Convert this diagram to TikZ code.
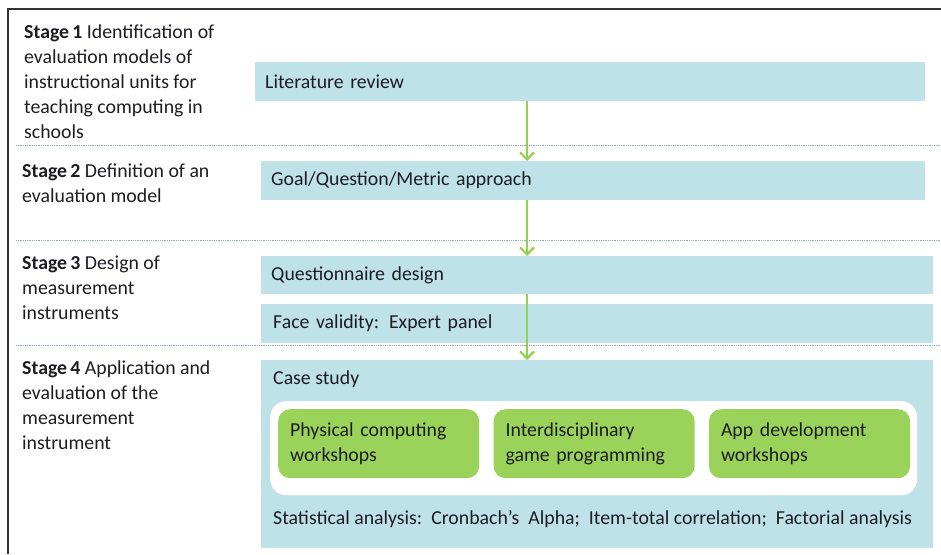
\documentclass[tikz,border=0pt]{standalone}
\usepackage{fontspec}
\setmainfont{Carlito}
\usetikzlibrary{
  arrows.meta,
  positioning
}
\definecolor{barblue}{RGB}{191,225,232}
\definecolor{tilegreen}{RGB}{155,211,90}
\definecolor{flowgreen}{RGB}{146,208,80}
\definecolor{sepblue}{RGB}{140,165,205}
\definecolor{ink}{RGB}{28,28,36}
\newcommand{\bodyfont}{\fontsize{19.8}{25}\selectfont}
\newcommand{\gap}{\hspace{9pt}}

\tikzset{
  stagetxt/.style={anchor=base west, align=left, inner sep=0pt, text=ink, font=\bodyfont},
  bar/.style={fill=barblue, anchor=north west, minimum height=39pt, inner xsep=10pt,
    text width=#1, align=left, text=ink, font=\bodyfont},
  tile/.style={fill=tilegreen, rounded corners=12pt, minimum height=69pt, inner xsep=12pt,
    text width=177pt, align=left, text=ink, font=\bodyfont},
  txt/.style={anchor=west, inner sep=0pt, text=ink, font=\bodyfont},
  flow/.style={draw=flowgreen, line width=2.2pt, -{Straight Barb[length=7pt, width=14pt]}},
  sep/.style={draw=sepblue, line width=0.9pt, dash pattern=on 0.9pt off 0.9pt}
}

\begin{document}
\begin{tikzpicture}[x=1pt, y=-1pt]
  \useasboundingbox (0,0) rectangle (941,554);

  % frame, open to the right and bottom
  \draw[black!80, line width=1.5pt] (8,554) -- (8,9) -- (941,9);

  % stage separators
  \draw[sep] (16,145) -- (941,145);
  \draw[sep] (16,240) -- (941,240);
  \draw[sep] (16,345) -- (941,345);

  % stage descriptions (placed by the baseline of their last line)
  \node[stagetxt] (s1) at (24,138) {\textbf{Stage\,1} Identification of\\evaluation models of\\instructional units for\\teaching computing in\\schools};
  \node[stagetxt] (s2) at (22,202) {\textbf{Stage\,2} Definition of an\\evaluation model};
  \node[stagetxt] (s3) at (22,319) {\textbf{Stage\,3} Design of\\measurement\\instruments};
  \node[stagetxt] (s4) at (22,449) {\textbf{Stage\,4} Application and\\evaluation of the\\measurement\\instrument};

  % activities
  \node[bar=650pt] (lit) at (255,62) {Literature review};
  \node[bar=644pt] (gqm) at (261,161) {Goal/Question/Metric approach};
  \node[bar=652pt, minimum height=38pt] (quest) at (261,256) {Questionnaire design};
  \node[bar=648pt, inner xsep=12pt, below=9pt of quest] (face) {Face validity: Expert panel};

  % case study block
  \node[fill=barblue, anchor=north west, minimum width=672pt, minimum height=188pt, inner sep=0pt] (case) at (261,360) {};
  \node[txt] (casettl) at (273,379) {Case study};
  \node[fill=white, rounded corners=16pt, anchor=north west, minimum width=647pt, minimum height=94pt, inner sep=0pt] (tray) at (270,401) {};
  \node[tile, anchor=north west] (phys) at (278,409) {Physical computing\\workshops};
  \node[tile, right=14pt of phys] (game) {Interdisciplinary\\game programming};
  \node[tile, right=14pt of game] (app) {App development\\workshops};
  \node[txt] (stats) at (273,519) {Statistical analysis:\gap Cronbach’s\gap Alpha;\gap Item-total correlation;\gap Factorial analysis};

  % flow between stages
  \coordinate (spine) at (527,0);
  \draw[flow] (lit.south -| spine) -- (gqm.north -| spine);
  \draw[flow] (gqm.south -| spine) -- (quest.north -| spine);
  \draw[flow] (quest.south -| spine) -- (case.north -| spine);
\end{tikzpicture}
\end{document}
